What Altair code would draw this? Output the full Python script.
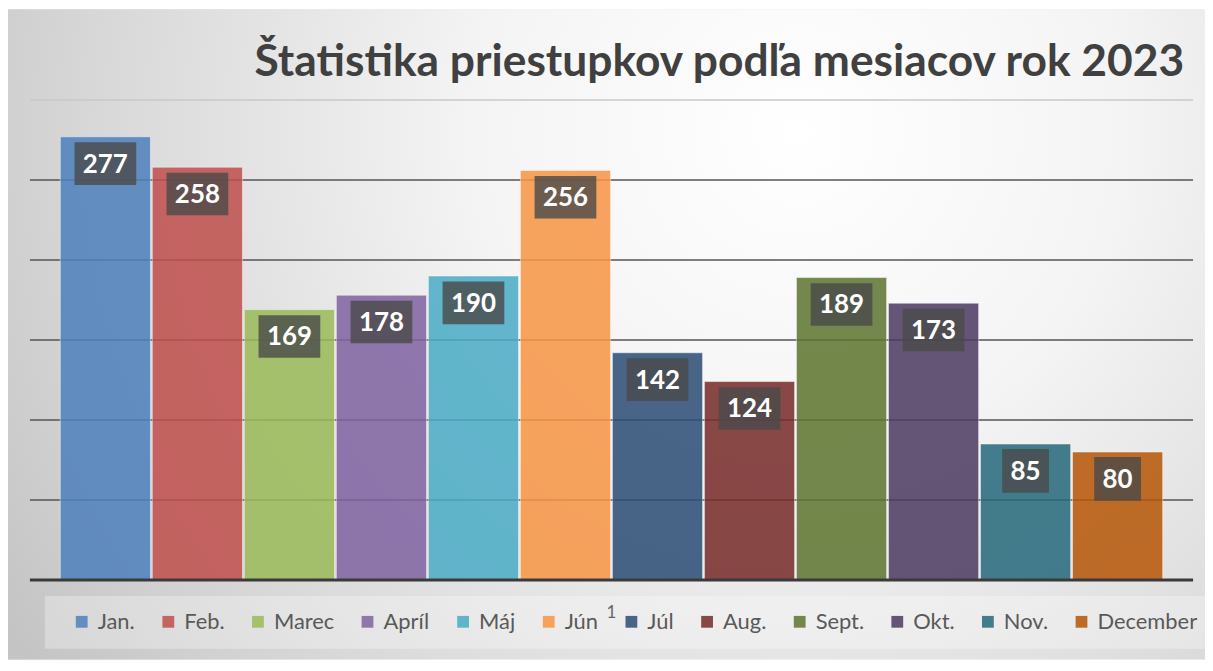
import altair as alt
import pandas as pd

months = ["Jan.", "Feb.", "Marec", "Apríl", "Máj", "Jún", "Júl", "Aug.",
          "Sept.", "Okt.", "Nov.", "December"]
values = [277, 258, 169, 178, 190, 256, 142, 124, 189, 173, 85, 80]
colors = ["#4F81BD", "#C0504D", "#9BBB59", "#8064A2", "#4BACC6", "#F79646",
          "#2C4D75", "#772C2A", "#5F7530", "#4D3B62", "#276A7C", "#B65708"]
grid_values = [50, 100, 150, 200, 250, 300]
title_text = "Štatistika priestupkov podľa mesiacov rok 2023"
footnote = "1"

df = pd.DataFrame({"month": months, "value": values})

W, H = 1168, 482

xscale = alt.Scale(domain=months, paddingInner=0.02, paddingOuter=0.33)
yscale = alt.Scale(domain=[0, 300], nice=False, zero=True)
color_scale = alt.Scale(domain=months, range=colors)

one = pd.DataFrame({"a": [0]})

bg = alt.Chart(one).mark_rect(
    fill={
        "gradient": "radial",
        "x1": 0.66, "y1": 0.33, "r1": 0.0,
        "x2": 0.66, "y2": 0.33, "r2": 0.78,
        "stops": [
            {"offset": 0.0, "color": "#ffffff"},
            {"offset": 0.35, "color": "#f4f4f4"},
            {"offset": 0.75, "color": "#d8d8d8"},
            {"offset": 1.0, "color": "#c4c4c4"},
        ],
    }
).encode(x=alt.value(-22), x2=alt.value(1180), y=alt.value(-91), y2=alt.value(562))

strip = alt.Chart(one).mark_rect(fill="white", opacity=0.3).encode(
    x=alt.value(15), x2=alt.value(1180), y=alt.value(498), y2=alt.value(551)
)

grid = alt.Chart(pd.DataFrame({"g": grid_values})).mark_rule(strokeWidth=1.5).encode(
    y=alt.Y("g:Q", scale=yscale, axis=None),
    x=alt.value(0), x2=alt.value(W),
    color=alt.condition("datum.g == 300", alt.value("#c8c8c8"), alt.value("#555555")),
)

bars = alt.Chart(df).mark_bar(
    opacity=0.86, stroke="white", strokeWidth=1, strokeOpacity=0.5
).encode(
    x=alt.X("month:N", scale=xscale, sort=months, axis=None),
    y=alt.Y("value:Q", scale=yscale, axis=None),
    color=alt.Color(
        "month:N", scale=color_scale, sort=months,
        legend=alt.Legend(
            title=None, orient="none", legendX=41, legendY=513,
            direction="horizontal", symbolType="square", symbolSize=140,
            symbolStrokeWidth=0, labelFont="Lato", labelFontSize=22,
            labelColor="#595959", columnPadding=22, labelOffset=5,
            labelLimit=300,
        ),
    ),
)

enc = dict(
    x=alt.X("month:N", scale=xscale, sort=months, axis=None),
    y=alt.Y("value:Q", scale=yscale, axis=None),
)

box3 = alt.Chart(df).transform_filter("datum.value >= 100").mark_point(
    shape="M-1,-0.69L1,-0.69L1,0.69L-1,0.69Z", size=3844, filled=True,
    fill="#4a4a4a", opacity=0.8, strokeWidth=0, yOffset=27,
).encode(**enc)

box2 = alt.Chart(df).transform_filter("datum.value < 100").mark_point(
    shape="M-1,-0.93L1,-0.93L1,0.93L-1,0.93Z", size=2209, filled=True,
    fill="#4a4a4a", opacity=0.8, strokeWidth=0, yOffset=27,
).encode(**enc)

labels = alt.Chart(df).mark_text(
    color="white", font="Lato", fontSize=26, fontWeight="bold",
    baseline="middle", yOffset=28,
).encode(text="value:Q", **enc)

base = alt.Chart(pd.DataFrame({"v": [0]})).mark_rule(color="#3a3a3a", strokeWidth=3).encode(
    y=alt.Y("v:Q", scale=yscale, axis=None), x=alt.value(0), x2=alt.value(W)
)

title = alt.Chart(one).mark_text(
    text=title_text, font="Lato", fontSize=44.5, fontWeight="bold",
    color="#404040", align="right", baseline="alphabetic",
).encode(x=alt.value(1159), y=alt.value(-24))

note = alt.Chart(one).mark_text(
    text=footnote, font="Lato", fontSize=17, color="#666666",
    align="center", baseline="alphabetic",
).encode(x=alt.value(584), y=alt.value(520))

chart = alt.layer(bg, strip, grid, bars, box3, box2, labels, base, title, note).properties(
    width=W, height=H, padding=0
).configure_view(stroke=None, fill=None).configure(background="white")

chart.save("out.html", embed_options={"renderer": "svg", "actions": False})
